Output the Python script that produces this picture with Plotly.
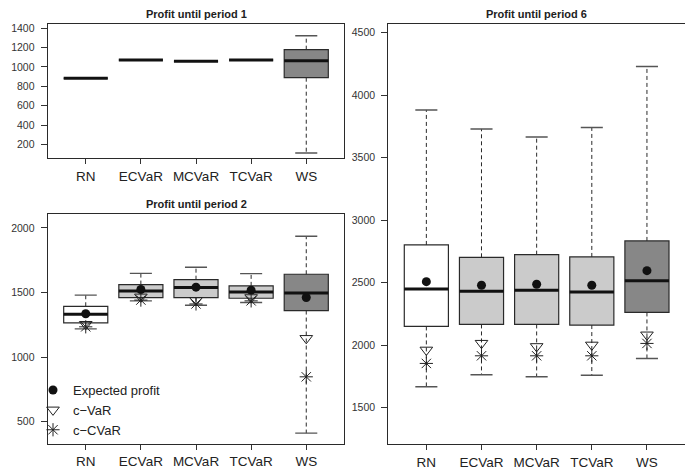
import plotly.graph_objects as go

categories = ["RN", "ECVaR", "MCVaR", "TCVaR", "WS"]
box_colors = ["#ffffff", "#cbcbcb", "#cbcbcb", "#cbcbcb", "#878787"]

# Profit until period 1
p1_lower = [883, 1071, 1057, 1071, 115]
p1_q1 = [883, 1071, 1057, 1071, 889]
p1_median = [883, 1071, 1057, 1071, 1064]
p1_q3 = [883, 1071, 1057, 1071, 1177]
p1_upper = [883, 1071, 1057, 1071, 1321]

# Profit until period 2
p2_lower = [1219, 1436, 1402, 1423, 412]
p2_q1 = [1265, 1461, 1461, 1456, 1361]
p2_median = [1332, 1513, 1539, 1505, 1497]
p2_q3 = [1394, 1562, 1600, 1552, 1642]
p2_upper = [1480, 1649, 1696, 1647, 1936]
p2_mean = [1336, 1524, 1542, 1519, 1462]
p2_var = [1255, 1467, 1440, 1462, 1146]
p2_cvar = [1235, 1442, 1412, 1436, 848]

# Profit until period 6
p6_lower = [1667, 1763, 1747, 1760, 1894]
p6_q1 = [2150, 2166, 2166, 2161, 2262]
p6_median = [2449, 2431, 2439, 2425, 2516]
p6_q3 = [2802, 2703, 2724, 2706, 2834]
p6_upper = [3882, 3730, 3666, 3741, 4230]
p6_mean = [2508, 2479, 2487, 2479, 2596]
p6_var = [1962, 2016, 1990, 2002, 2083]
p6_cvar = [1854, 1915, 1915, 1915, 2014]

titles = ["Profit until period 1", "Profit until period 2", "Profit until period 6"]
legend_names = ["Expected profit", "c\u2212VaR", "c\u2212CVaR"]

FONT = "Liberation Sans, Arial, Helvetica, sans-serif"
positions = list(range(1, len(categories) + 1))
BOX_W = 0.8
CAP_W = 0.4

fig = go.Figure()


def add_boxes(xa, ya, lower, q1, med, q3, upper):
    for i, pos in enumerate(positions):
        fig.add_trace(go.Box(
            x=[pos], q1=[q1[i]], median=[med[i]], q3=[q3[i]],
            lowerfence=[q1[i]], upperfence=[q3[i]],
            width=BOX_W, whiskerwidth=0, fillcolor=box_colors[i],
            line=dict(color="#2a2a2a", width=1.2),
            xaxis=xa, yaxis=ya, showlegend=False, hoverinfo="skip",
        ))
    wx, wy, cx, cy, mx, my = [], [], [], [], [], []
    for i, pos in enumerate(positions):
        wx += [pos, pos, None, pos, pos, None]
        wy += [q3[i], upper[i], None, q1[i], lower[i], None]
        cx += [pos - CAP_W / 2, pos + CAP_W / 2, None, pos - CAP_W / 2, pos + CAP_W / 2, None]
        cy += [upper[i], upper[i], None, lower[i], lower[i], None]
        mx += [pos - BOX_W / 2, pos + BOX_W / 2, None]
        my += [med[i], med[i], None]
    fig.add_trace(go.Scatter(x=wx, y=wy, mode="lines", xaxis=xa, yaxis=ya,
                             line=dict(color="#2a2a2a", width=1, dash="4px,3px"),
                             showlegend=False, hoverinfo="skip"))
    fig.add_trace(go.Scatter(x=cx, y=cy, mode="lines", xaxis=xa, yaxis=ya,
                             line=dict(color="#555555", width=1.4),
                             showlegend=False, hoverinfo="skip"))
    fig.add_trace(go.Scatter(x=mx, y=my, mode="lines", xaxis=xa, yaxis=ya,
                             line=dict(color="#111111", width=3),
                             showlegend=False, hoverinfo="skip"))


def add_points(xa, ya, mean, var, cvar, show):
    fig.add_trace(go.Scatter(x=positions, y=mean, mode="markers", name=legend_names[0],
                             xaxis=xa, yaxis=ya, showlegend=show, legendrank=1,
                             marker=dict(symbol="circle", size=9, color="#111111")))
    fig.add_trace(go.Scatter(x=positions, y=var, mode="markers", name=legend_names[1],
                             xaxis=xa, yaxis=ya, showlegend=show, legendrank=2,
                             marker=dict(symbol="triangle-down-open", size=11, color="#222222",
                                         line=dict(width=1, color="#222222"))))
    fig.add_trace(go.Scatter(x=positions, y=cvar, mode="markers", name=legend_names[2],
                             xaxis=xa, yaxis=ya, showlegend=show, legendrank=3,
                             marker=dict(symbol="asterisk-open", size=11, color="#222222",
                                         line=dict(width=1, color="#222222"))))


add_boxes("x", "y", p1_lower, p1_q1, p1_median, p1_q3, p1_upper)
add_boxes("x2", "y2", p2_lower, p2_q1, p2_median, p2_q3, p2_upper)
add_points("x2", "y2", p2_mean, p2_var, p2_cvar, True)
add_boxes("x3", "y3", p6_lower, p6_q1, p6_median, p6_q3, p6_upper)
add_points("x3", "y3", p6_mean, p6_var, p6_cvar, False)

W, H = 685, 471
left_dom = [47.7 / W, 344.3 / W]
right_dom = [388.3 / W, 1.0]
y1_dom = [1 - 158.3 / H, 1 - 24.3 / H]
y2_dom = [1 - 444.0 / H, 1 - 214.3 / H]
y3_dom = [1 - 444.3 / H, 1 - 24.3 / H]

xcommon = dict(range=[0.31, 5.69], tickmode="array", tickvals=positions, ticktext=categories,
               ticks="outside", ticklen=5, tickwidth=1, tickcolor="#333333",
               showline=True, linecolor="#2a2a2a", linewidth=1.2, mirror=True,
               showgrid=False, zeroline=False, automargin=False,
               tickfont=dict(family=FONT, size=13.5, color="#222222"), ticklabelstandoff=0)
ycommon = dict(ticks="outside", ticklen=6, tickwidth=1, tickcolor="#333333",
               showline=True, linecolor="#2a2a2a", linewidth=1.2, mirror=True,
               showgrid=False, zeroline=False, automargin=False,
               tickfont=dict(family=FONT, size=10.5, color="#333333"), ticklabelstandoff=4)

fig.update_layout(
    template="none",
    width=W, height=H,
    margin=dict(l=0, r=0, t=0, b=0),
    paper_bgcolor="white", plot_bgcolor="white",
    xaxis=dict(domain=left_dom, anchor="y", **xcommon),
    yaxis=dict(domain=y1_dom, anchor="x", range=[60, 1438], tickvals=[200, 400, 600, 800, 1000, 1200, 1400], **ycommon),
    xaxis2=dict(domain=left_dom, anchor="y2", **xcommon),
    yaxis2=dict(domain=y2_dom, anchor="x2", range=[328, 2106], tickvals=[500, 1000, 1500, 2000], **ycommon),
    xaxis3=dict(domain=right_dom, anchor="y3", **xcommon),
    yaxis3=dict(domain=y3_dom, anchor="x3", range=[1207, 4567], tickvals=[1500, 2000, 2500, 3000, 3500, 4000, 4500], **ycommon),
    showlegend=True,
    legend=dict(x=33 / W, xanchor="left", y=1 - 375 / H, yanchor="top",
                bgcolor="rgba(0,0,0,0)", borderwidth=0,
                font=dict(family=FONT, size=13, color="#222222"),
                tracegroupgap=0, itemwidth=30),
    annotations=[
        dict(text="<b>" + titles[0] + "</b>", xref="paper", yref="paper",
             x=(left_dom[0] + left_dom[1]) / 2, y=1 - 14 / H, showarrow=False,
             xanchor="center", yanchor="middle", font=dict(family=FONT, size=11, color="#222222")),
        dict(text="<b>" + titles[1] + "</b>", xref="paper", yref="paper",
             x=(left_dom[0] + left_dom[1]) / 2, y=1 - 204 / H, showarrow=False,
             xanchor="center", yanchor="middle", font=dict(family=FONT, size=11, color="#222222")),
        dict(text="<b>" + titles[2] + "</b>", xref="paper", yref="paper",
             x=(388.3 / W + 684.7 / W) / 2, y=1 - 14 / H, showarrow=False,
             xanchor="center", yanchor="middle", font=dict(family=FONT, size=11, color="#222222")),
    ],
)

fig.write_html("out.html", config={"displayModeBar": False},
               post_script="document.body.style.margin='0';document.body.style.padding='0';document.body.style.overflow='hidden';")
